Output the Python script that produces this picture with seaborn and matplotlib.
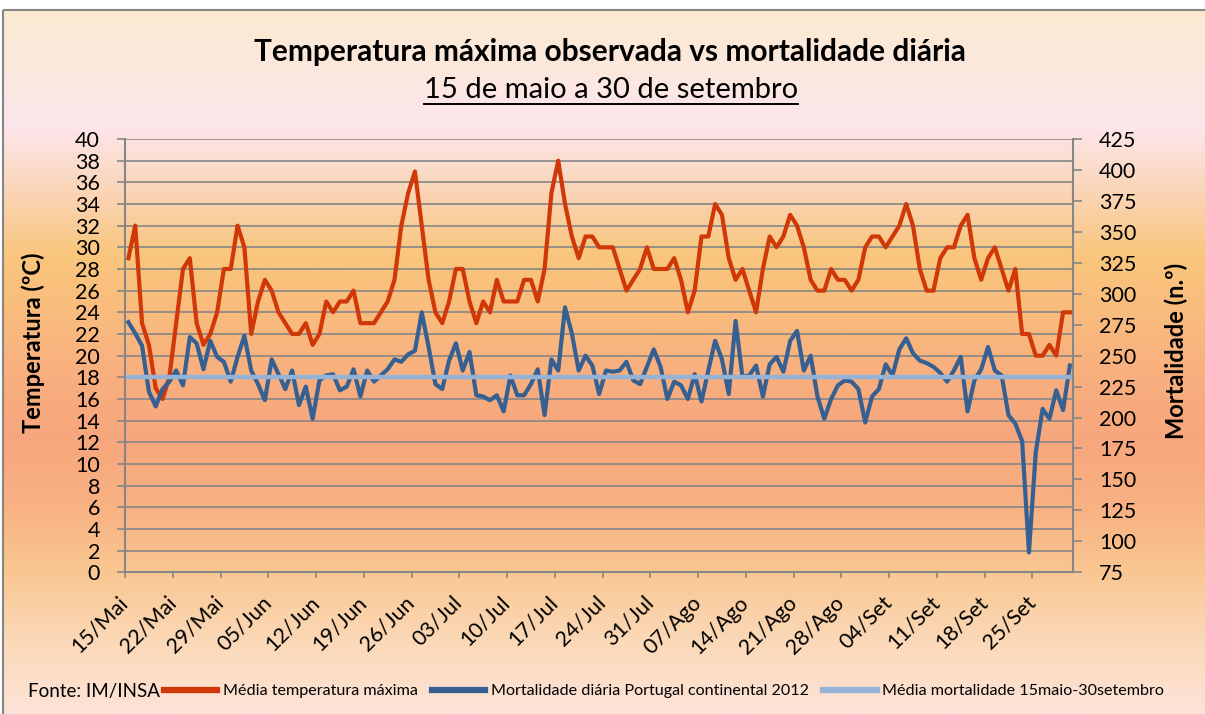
import numpy as np
import pandas as pd
import seaborn as sns
import matplotlib.pyplot as plt
from matplotlib.colors import LinearSegmentedColormap
from matplotlib.patches import Rectangle
from matplotlib.lines import Line2D

# valores diarios, 15 de maio a 30 de setembro de 2012
dates = pd.date_range('2012-05-15', '2012-09-30')

temp_max = [29, 32, 23, 21, 17, 16, 18, 23, 28, 29,
            23, 21, 22, 24, 28, 28, 32, 30, 22, 25,
            27, 26, 24, 23, 22, 22, 23, 21, 22, 25,
            24, 25, 25, 26, 23, 23, 23, 24, 25, 27,
            32, 35, 37, 32, 27, 24, 23, 25, 28, 28,
            25, 23, 25, 24, 27, 25, 25, 25, 27, 27,
            25, 28, 35, 38, 34, 31, 29, 31, 31, 30,
            30, 30, 28, 26, 27, 28, 30, 28, 28, 28,
            29, 27, 24, 26, 31, 31, 34, 33, 29, 27,
            28, 26, 24, 28, 31, 30, 31, 33, 32, 30,
            27, 26, 26, 28, 27, 27, 26, 27, 30, 31,
            31, 30, 31, 32, 34, 32, 28, 26, 26, 29,
            30, 30, 32, 33, 29, 27, 29, 30, 28, 26,
            28, 22, 22, 20, 20, 21, 20, 24, 24]

mortality = [277, 268, 258, 221, 209, 223, 229, 238, 226, 265,
             260, 239, 262, 249, 245, 229, 249, 266, 238, 227,
             214, 247, 235, 223, 238, 210, 225, 199, 230, 234,
             235, 222, 225, 239, 217, 238, 229, 234, 239, 247,
             245, 251, 254, 285, 257, 227, 223, 246, 260, 238,
             253, 218, 217, 214, 218, 205, 234, 218, 218, 227,
             239, 202, 247, 238, 289, 268, 238, 250, 242, 219,
             238, 237, 238, 245, 230, 227, 241, 255, 241, 215,
             229, 226, 215, 235, 213, 238, 262, 247, 219, 278,
             233, 234, 242, 217, 243, 249, 237, 262, 270, 238,
             250, 217, 199, 215, 226, 230, 229, 223, 196, 217,
             223, 243, 234, 255, 264, 252, 246, 244, 241, 236,
             229, 238, 249, 205, 230, 239, 257, 238, 234, 202,
             195, 181, 91, 172, 207, 199, 222, 206, 242]

mortality_mean = 233

tick_labels = ['15/Mai', '22/Mai', '29/Mai', '05/Jun', '12/Jun', '19/Jun', '26/Jun',
               '03/Jul', '10/Jul', '17/Jul', '24/Jul', '31/Jul', '07/Ago', '14/Ago',
               '21/Ago', '28/Ago', '04/Set', '11/Set', '18/Set', '25/Set']

df = pd.DataFrame({'dia': np.arange(len(dates)), 'temp': temp_max,
                   'mort': mortality, 'media': mortality_mean})

RED = '#D03808'
BLUE = '#376092'
LIGHT = '#95B3D7'
GRID = '#868686'

plt.rcParams['font.family'] = ['Lato', 'DejaVu Sans']

W, H = 1205, 714
fig = plt.figure(figsize=(W / 100, H / 100), dpi=100, facecolor='white')

# fundo em degradê da área do gráfico
bg = fig.add_axes([0, 0, 1, 1], zorder=-10)
bg.set_axis_off()
stops = [(10, '#FBEAD2'), (60, '#FCE8DC'), (125, '#FDE6EC'), (165, '#FBDCCB'),
         (210, '#FAD0A6'), (255, '#F9C67C'), (320, '#F9BA7E'), (380, '#F8AE7E'),
         (440, '#F7A77D'), (510, '#F8B283'), (570, '#F9C690'), (640, '#FBD8B6'),
         (714, '#FDE3D8')]
cmap = LinearSegmentedColormap.from_list('fundo', [((y - 10) / (H - 10), c) for y, c in stops])
bg.imshow(np.linspace(0, 1, 600).reshape(-1, 1), cmap=cmap, aspect='auto',
          extent=(3, W + 5, H, 10), interpolation='bilinear')
bg.add_patch(Rectangle((3, 10), W + 10, H + 10, fill=False, ec=GRID, lw=1.5))
bg.set_xlim(0, W)
bg.set_ylim(H, 0)

ax1 = fig.add_axes([125 / W, 1 - 572.3 / H, 948.3 / W, 433.3 / H])
ax1.set_facecolor('none')
ax2 = ax1.twinx()

sns.lineplot(data=df, x='dia', y='temp', ax=ax1, color=RED, lw=3,
             label='Média temperatura máxima', legend=False)
sns.lineplot(data=df, x='dia', y='mort', ax=ax2, color=BLUE, lw=3,
             label='Mortalidade diária Portugal continental 2012', legend=False)
sns.lineplot(data=df, x='dia', y='media', ax=ax2, color=LIGHT, lw=3.2,
             label='Média mortalidade 15maio-30setembro', legend=False)

ax1.set_xlim(-0.5, len(dates) - 0.5)
ax1.set_ylim(0, 40)
ax2.set_ylim(75, 425)
ax1.set_yticks(np.arange(0, 41, 2))
ax2.set_yticks(np.arange(75, 426, 25))
ax1.set_xticks(np.arange(0, len(dates), 7) - 0.5)
ax1.set_xticklabels(tick_labels, rotation=45, ha='right', va='center',
                    rotation_mode='anchor')

ax1.yaxis.grid(True, color=GRID, lw=1.2)
ax1.set_axisbelow(True)
for ax in (ax1, ax2):
    for s in ax.spines.values():
        s.set_visible(False)
ax1.spines['left'].set_visible(True)
ax1.spines['bottom'].set_visible(True)
ax2.spines['right'].set_visible(True)
for s in (ax1.spines['left'], ax1.spines['bottom'], ax2.spines['right']):
    s.set_color(GRID)
    s.set_linewidth(1.5)

ax1.tick_params(axis='y', colors=GRID, labelcolor='black', labelsize=15.5,
                length=6, width=1.2, pad=12)
ax1.tick_params(axis='x', colors=GRID, labelcolor='black', labelsize=15.5,
                length=4.5, width=1.2, pad=15)
ax2.tick_params(axis='y', colors=GRID, labelcolor='black', labelsize=15.5,
                length=6.5, width=1.2, pad=12)

ax1.set_xlabel('')
ax1.set_ylabel('')
ax2.set_ylabel('')
fig.text(33 / W, 1 - 343 / H, 'Temperatura (ºC)', rotation=90, fontsize=17,
         fontweight='bold', ha='center', va='center')
fig.text(1176 / W, 1 - 351 / H, 'Mortalidade (n.º)', rotation=90, fontsize=17,
         fontweight='bold', ha='center', va='center')

fig.text(610 / W, 1 - 52 / H, 'Temperatura máxima observada vs mortalidade diária',
         fontsize=21.5, fontweight='bold', ha='center', va='center')
sub = fig.text(611 / W, 1 - 90 / H, '15 de maio a 30 de setembro',
               fontsize=21, ha='center', va='center')
fig.canvas.draw()
bb = sub.get_window_extent(fig.canvas.get_renderer())
fig.add_artist(Line2D([bb.x0 / W, bb.x1 / W], [(bb.y0 - 1) / H, (bb.y0 - 1) / H],
                      color='black', lw=1.4))

fig.text(28 / W, 1 - 692 / H, 'Fonte: IM/INSA', fontsize=13.5, ha='left', va='center')
handles = ax1.get_lines()[:1] + ax2.get_lines()[:2]
leg = fig.legend(handles, [h.get_label() for h in handles], loc='center left',
                 bbox_to_anchor=(164 / W, 1 - 691 / H), ncol=3, frameon=False,
                 fontsize=11.6, handlelength=3.3, handletextpad=0.35,
                 columnspacing=0.9, borderpad=0, borderaxespad=0)
for line in leg.get_lines():
    line.set_linewidth(4.5)

fig.savefig('out.png', dpi=100)
